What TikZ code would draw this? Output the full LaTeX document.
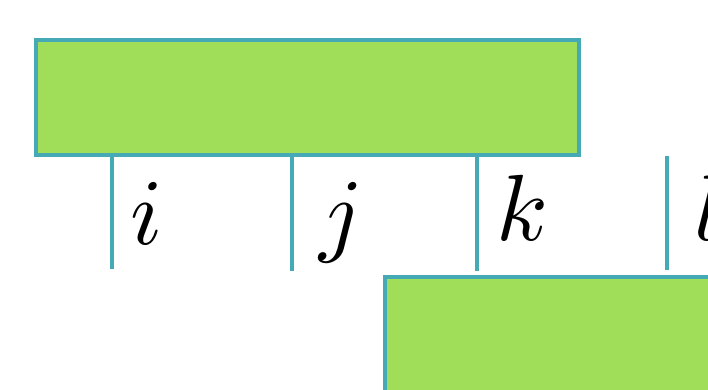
\documentclass[tikz,border=0pt]{standalone}
\definecolor{boxfill}{HTML}{A0DE5A}
\definecolor{edge}{HTML}{46A9B6}
\begin{document}
\begin{tikzpicture}[x=1pt,y=-1pt,
  blk/.style={draw=edge,fill=boxfill,line width=4.5pt,inner sep=0pt},
  leg/.style={draw=edge,line width=4.5pt},
  lab/.style={anchor=base west,inner sep=0pt,scale=9.4}]
\useasboundingbox (0,0) rectangle (708,390);
\clip (0,0) rectangle (708,390);
\path[blk] (36,40) rectangle (579,155);
\path[blk] (385,277) rectangle (760,430);
\coordinate (a0) at (112,155); \coordinate (a1) at (112,269);
\coordinate (b0) at (292,155); \coordinate (b1) at (292,271);
\coordinate (c0) at (477,155); \coordinate (c1) at (477,271);
\coordinate (d0) at (667,156); \coordinate (d1) at (667,270);
\draw[leg] (a0) -- (a1);
\draw[leg] (b0) -- (b1);
\draw[leg] (c0) -- (c1);
\draw[leg] (d0) -- (d1);
\node[lab] (li) at (129,244) {$i$};
\node[lab] (lj) at (318,244) {$j$};
\node[lab] (lk) at (495,240) {$k$};
\node[lab] (ll) at (693,240) {$l$};
\end{tikzpicture}
\end{document}
